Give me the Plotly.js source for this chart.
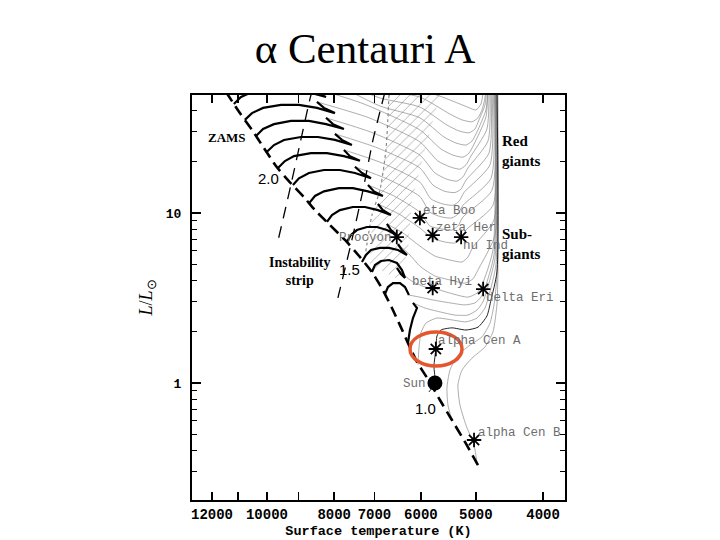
<!DOCTYPE html>
<html><head><meta charset="utf-8">
<script src="https://cdn.plot.ly/plotly-3.0.1.min.js"></script>
<style>body{margin:0;background:#fff}#chart{width:720px;height:540px}</style>
</head><body><div id="chart"></div>
<script>
// ---- axis ticks ----
const xTickVals = [12000, 11000, 10000, 9000, 8000, 7000, 6000, 5000, 4000];
const xTickText = ['12000', '', '10000', '', '8000', '7000', '6000', '5000', '4000'];
const yTickVals = [1, 10];
const yTickText = ['1', '10'];
const yMinorVals = [0.3,0.4,0.5,0.6,0.7,0.8,0.9,2,3,4,5,6,7,8,9,20,30,40];

// ---- stars ----
const starNames = ['eta Boo','zeta Her','nu Ind','Procyon','beta Hyi','delta Eri','alpha Cen A','alpha Cen B'];
const starT = [6020, 5770, 5250, 6500, 5770, 4880, 5710, 5030];
const starL = [9.35, 7.42, 7.22, 7.22, 3.62, 3.57, 1.585, 0.462];
const sunName = ['Sun'];
const sunT = [5727];
const sunL = [1.0];

// ---- ZAMS ----
const zamsT = [11455,10940,10510,10100,9705,9326,8845,8528,8114,7719,7344,7060,6806,6605,6432,6264,6079,5823,5633,5413,5184,4965];
const zamsL = [51.5,38.7,30.8,24.1,18.9,15.6,12.4,10.4,8.50,6.94,5.51,4.50,3.52,2.76,2.19,1.72,1.33,1.01,0.794,0.606,0.450,0.329];

// ---- instability strip edges ----
const stripBlueT = [8584, 8641, 8904, 9204, 9450, 9673];
const stripBlueL = [52.9, 49.4, 28.8, 15.6, 9.73, 6.48];
const stripRedT = [6760, 7034, 7272, 7544, 7902];
const stripRedL = [51.5, 26.9, 13.6, 6.94, 3.17];

// ---- terminal main sequence (dotted) and Hertzsprung gap (hatched) ----
const tamsT = [6671, 6738, 6874, 7058, 7223];
const tamsL = [49.4, 23.5, 13.6, 9.73, 5.51];
const gapT = [6671,5633,5919,6181,6263,6432,7105,7058,6874,6738];
const gapL = [49.4,49.4,23.5,11.9,6.06,4.04,4.94,9.73,13.6,23.5];

// ---- evolutionary tracks: thin (post main sequence) parts ----
const thinA_T = [6432,5633,5184,4998,4916,4867];
const thinA_L = [57.4,48.7,42.6,40.4,43.8,56.6];
const thinB_T = [7594,6874,6020,5449,5236,5065,4965,4899,4851,4835];
const thinB_L = [58.9,52.9,48.1,38.2,35.3,34.4,36.3,40.4,47.5,56.6];
const thinC_T = [7720,6874,6020,5503,5288,5116,5015,4948,4851,4819];
const thinC_L = [57.4,47.5,42.0,32.9,30.4,29.6,31.2,35.3,43.2,56.6];
const thinD_T = [7850,6874,6020,5558,5341,5167,5065,4981,4835,4803];
const thinD_L = [55.8,42.6,36.3,28.0,25.8,25.1,26.5,30.0,40.4,56.6];

const trk3ThickT = [11160,10900,10510,9870,9300,8730,8220,8530,8730];
const trk3ThickL = [43.8,48.1,51.5,53.6,53.6,51.5,48.1,51.5,55.8];
const trk3ThinT = [8730,7250,6020,5614,5395,5219,5116,5031,4835,4803];
const trk3ThinL = [55.8,43.8,30.8,23.8,21.9,21.3,22.5,25.4,36.7,54.4];

const trk4ThickT = [10760,10510,10130,9545,8993,8471,7980,8276,8471];
const trk4ThickL = [35.3,38.7,41.5,43.2,43.2,41.5,38.7,41.5,45.0];
const trk4ThinT = [8471,7129,6020,5670,5449,5271,5167,5082,4819,4787];
const trk4ThinL = [45.0,36.3,26.2,20.2,18.7,18.1,19.2,21.6,31.2,54.4];

const trk5ThickT = [10370,10130,9769,9234,8699,8220,7746,8033,8220];
const trk5ThickL = [28.4,31.2,33.3,34.8,34.8,33.3,31.2,33.3,36.3];
const trk5ThinT = [8220,7034,6020,5727,5503,5324,5219,5133,4803,4771];
const trk5ThinL = [36.3,29.6,21.9,17.2,15.8,15.4,16.3,18.4,26.5,54.4];

const trk6ThickT = [10000,9769,9450,8933,8443,7980,7544,7798,7980];
const trk6ThickL = [22.9,25.1,26.9,28.0,28.0,26.9,25.1,26.9,29.2];
const trk6ThinT = [7980,6920,6020,5765,5540,5359,5254,5167,4787,4755];
const trk6ThinL = [29.2,24.1,18.4,14.6,13.4,13.2,13.8,15.6,22.5,54.4];

const trk7ThickT = [9641,9421,9142,8641,8195,7746,7345,7594,7746];
const trk7ThickL = [18.4,20.2,21.6,22.5,22.5,21.6,20.3,21.6,23.5];
const trk7ThinT = [7746,6828,6020,5804,5577,5395,5288,5201,4771,4740];
const trk7ThinL = [23.5,19.7,15.2,12.1,11.3,11.1,11.7,13.2,19.2,54.4];

const trk8ThickT = [9173,8993,8699,8276,7850,7468,7081,7296,7468];
const trk8ThickL = [14.6,16.0,17.2,17.9,17.9,17.2,16.0,17.2,18.7];
const trk8ThinT = [7468,6693,6020,5823,5596,5413,5306,5219,4755,4724];
const trk8ThinL = [18.7,15.8,12.5,10.1,9.47,9.35,9.86,11.1,16.0,54.4];

const trk9ThickT = [8699,8527,8276,7876,7519,7152,6806,7011,7152];
const trk9ThickL = [11.4,12.6,13.4,14.0,14.0,13.4,12.6,13.4,14.6];
const trk9ThinT = [7152,6561,6020,5823,5596,5413,5306,5219,4740,4708];
const trk9ThinL = [14.6,12.6,10.1,8.39,8.05,7.94,8.39,9.47,13.6,54.4];

const trk10ThickT = [8195,8060,7850,7519,7223,6920,6627,6806,6920];
const trk10ThickL = [8.86,9.73,10.4,10.85,10.85,10.4,9.74,10.4,11.3];
const trk10ThinT = [6920,6453,6020,5784,5540,5359,5254,5167,4724,4692];
const trk10ThinL = [11.3,9.86,8.16,7.13,6.75,6.66,7.03,7.94,11.1,54.4];

const trk11ThickT = [7670,7569,7419,7176,6943,6716,6497,6627,6716];
const trk11ThickL = [6.75,7.42,7.94,8.27,8.27,7.94,7.42,7.94,8.62];
const trk11ThinT = [6716,6368,6020,5727,5449,5236,5133,5048,4708,4678];
const trk11ThinL = [8.62,7.62,6.39,5.58,5.29,5.15,5.51,6.31,9.10,54.4];

const trk15ThickT = [7296,7199,7081,6874,6671,6475,6284,6389,6475];
const trk15ThickL = [5.15,5.66,6.06,6.23,6.23,6.06,5.66,6.06,6.57];
const trk15ThinT = [6475,6222,6020,5727,5449,5184,5048,4948,4692,4662];
const trk15ThinL = [6.57,5.66,4.87,4.26,4.04,3.87,4.10,4.75,7.42,54.4];

const trk14ThickT = [7058,6987,6851,6671,6497,6389,6325,6411,6497];
const trk14ThickL = [4.50,4.94,5.22,5.29,5.08,4.62,4.15,4.38,4.75];
const trk14ThinT = [6497,6222,5919,5766,5449,5133,4981,4899,4724,4692];
const trk14ThinL = [4.75,4.04,3.67,3.62,3.38,3.20,3.38,3.77,6.06,54.4];

const trk13ThickT = [6760,6693,6583,6432,6325,6243];
const trk13ThickL = [3.33,3.67,3.87,3.87,3.67,3.29];
const trk13ThinT = [6243,6020,5766,5449,5184,5015,4916,4851,4708,4692];
const trk13ThinL = [3.29,3.20,3.08,2.96,2.88,2.96,3.20,3.62,5.66,54.4];

const trk12ThickT = [6263,6222,6160,6079,6160];
const trk12ThickL = [1.72,2.05,2.41,2.76,2.96];
const trk12ThinT = [6160,5919,5633,5359,5133,4981,4883,4819,4692,4678];
const trk12ThinL = [2.96,2.76,2.62,2.51,2.51,2.69,3.00,3.52,5.44,54.4];

const trk11mT = [6059,6039,5999,5901,5689,5413,5167,4981,4851,4787,4678,4678];
const trk11mL = [1.28,1.60,1.97,2.25,2.41,2.35,2.29,2.41,2.76,3.29,4.94,54.4];

const trk10mT = [5842,5727,5746,5708,5689,5614,5413,5167,4965,4819,4755,4662,4662];
const trk10mL = [0.886,1.0,1.26,1.58,1.89,2.05,2.11,2.05,2.13,2.48,3.08,4.50,54.4];

const trk09mT = [5413,5485,5503,5449,5306,5099,4899,4771,4708,4662,4662];
const trk09mL = [0.605,0.742,0.935,1.19,1.46,1.67,1.87,2.25,2.88,4.26,54.4];

const trk08mT = [4981,5031,5167,5271,5306,5236,5065,4851,4724,4662,4647,4647];
const trk08mL = [0.338,0.432,0.566,0.742,0.973,1.19,1.40,1.63,2.00,2.88,4.32,54.4];

// ---- label anchors (paper coordinates) ----
const starLabelX = [0.614, 0.649, 0.721, 0.389, 0.585, 0.783, 0.654, 0.761];
const starLabelY = [0.714, 0.672, 0.627, 0.647, 0.538, 0.499, 0.393, 0.165];
const sunLabelX = [0.561];
const sunLabelY = [0.286];

// ---- build traces ----
const traces = [];
function addLine(T, L, color, width, dash) {
  traces.push({x: T, y: L, type: 'scatter', mode: 'lines', hoverinfo: 'skip', showlegend: false,
    line: {color: color, width: width, dash: dash || 'solid', shape: 'spline', smoothing: 0.6}});
}
// hatched Hertzsprung gap
traces.push({x: gapT, y: gapL, type: 'scatter', mode: 'lines', fill: 'toself', showlegend: false, hoverinfo: 'skip',
  fillcolor: 'rgba(255,255,255,0)', line: {width: 0, color: 'rgba(0,0,0,0)'},
  fillpattern: {shape: '/', fgcolor: '#aaaaaa', bgcolor: 'rgba(255,255,255,0)', size: 7, solidity: 0.12}});

const thinC = '#808080', thinW = 0.65;
[[thinA_T,thinA_L],[thinB_T,thinB_L],[thinC_T,thinC_L],[thinD_T,thinD_L],
 [trk3ThinT,trk3ThinL],[trk4ThinT,trk4ThinL],[trk5ThinT,trk5ThinL],[trk6ThinT,trk6ThinL],
 [trk7ThinT,trk7ThinL],[trk8ThinT,trk8ThinL],[trk9ThinT,trk9ThinL],[trk10ThinT,trk10ThinL],
 [trk11ThinT,trk11ThinL],[trk15ThinT,trk15ThinL],[trk14ThinT,trk14ThinL],[trk13ThinT,trk13ThinL],
 [trk12ThinT,trk12ThinL],[trk11mT,trk11mL],[trk09mT,trk09mL],[trk08mT,trk08mL]
].forEach(p => addLine(p[0], p[1], thinC, thinW));

addLine(tamsT, tamsL, '#888888', 1.2, 'dot');
addLine(stripBlueT, stripBlueL, '#000000', 1.3, '12px,8px');
addLine(stripRedT, stripRedL, '#000000', 1.3, '12px,8px');

[[trk3ThickT,trk3ThickL],[trk4ThickT,trk4ThickL],[trk5ThickT,trk5ThickL],[trk6ThickT,trk6ThickL],
 [trk7ThickT,trk7ThickL],[trk8ThickT,trk8ThickL],[trk9ThickT,trk9ThickL],[trk10ThickT,trk10ThickL],
 [trk11ThickT,trk11ThickL],[trk15ThickT,trk15ThickL],[trk14ThickT,trk14ThickL],[trk13ThickT,trk13ThickL],
 [trk12ThickT,trk12ThickL]
].forEach(p => traces.push({x: p[0], y: p[1], type: 'scatter', mode: 'lines', hoverinfo: 'skip', showlegend: false,
   line: {color: '#000', width: 2.2}}));

addLine(trk10mT, trk10mL, '#222222', 1.0);
traces.push({x: zamsT, y: zamsL, type: 'scatter', mode: 'lines', hoverinfo: 'skip', showlegend: false,
  line: {color: '#000', width: 2.6, dash: '11px,6px', shape: 'spline', smoothing: 0.5}});

traces.push({x: starT, y: starL, text: starNames, type: 'scatter', mode: 'markers', showlegend: false,
  marker: {symbol: 'asterisk-open', size: 12, color: '#000', line: {color: '#000', width: 1.8}}});
traces.push({x: sunT, y: sunL, text: sunName, type: 'scatter', mode: 'markers', showlegend: false,
  marker: {symbol: 'circle', size: 15, color: '#000'}});

// ---- annotations ----
const labFont = {family: 'Liberation Mono, monospace', size: 12.5, color: '#6e6e6e'};
const annotations = [];
starNames.forEach((n, i) => annotations.push({text: n, xref: 'paper', yref: 'paper', x: starLabelX[i], y: starLabelY[i],
  xanchor: 'left', yanchor: 'middle', showarrow: false, font: labFont}));
annotations.push({text: sunName[0], xref: 'paper', yref: 'paper', x: sunLabelX[0], y: sunLabelY[0],
  xanchor: 'left', yanchor: 'middle', showarrow: false, font: labFont});
const boldSerif = {family: 'Liberation Serif, serif', size: 14, color: '#000', weight: 'bold'};
const sansLab = {family: 'Liberation Sans, sans-serif', size: 15, color: '#000'};
function lab(text, x, y, font, xanchor, align) {
  annotations.push({text: text, xref: 'paper', yref: 'paper', x: x, y: y, xanchor: xanchor || 'center',
    yanchor: 'middle', align: align || 'center', showarrow: false, font: font});
}
lab('ZAMS', 0.094, 0.894, Object.assign({}, boldSerif, {size: 13}));
lab('2.0', 0.206, 0.793, sansLab);
lab('1.5', 0.423, 0.568, sansLab);
lab('1.0', 0.627, 0.225, sansLab);
lab('Red<br>giants', 0.826, 0.862, Object.assign({}, boldSerif, {size: 15}), 'left', 'left');
lab('Sub-<br>giants', 0.826, 0.631, Object.assign({}, boldSerif, {size: 15}), 'left', 'left');
lab('Instability<br>strip', 0.287, 0.563, boldSerif);

const layout = {
  width: 720, height: 540,
  margin: {l: 192, r: 155, t: 95, b: 40},
  paper_bgcolor: '#fff', plot_bgcolor: '#fff',
  title: {text: 'α Centauri A', font: {family: 'Liberation Serif, serif', size: 43, color: '#000'},
          x: 0.507, xanchor: 'center', y: 0.911, yanchor: 'middle'},
  xaxis: {type: 'log', range: [4.1080, 3.5705], autorange: false,
    tickmode: 'array', tickvals: xTickVals, ticktext: xTickText, tickangle: 0,
    ticks: 'inside', ticklen: 8, tickwidth: 1.5, tickcolor: '#000',
    showline: true, linewidth: 2, linecolor: '#000', mirror: 'ticks', showgrid: false, zeroline: false,
    tickfont: {family: 'Liberation Mono, monospace', size: 14, color: '#000', weight: 'bold'},
    title: {text: 'Surface temperature (K)', standoff: 4,
      font: {family: 'Liberation Mono, monospace', size: 13.5, color: '#000', weight: 'bold'}}},
  yaxis: {type: 'log', range: [-0.6882, 1.6941], autorange: false,
    tickmode: 'array', tickvals: yTickVals, ticktext: yTickText, tickangle: 0,
    ticks: 'inside', ticklen: 9, tickwidth: 1.5, tickcolor: '#000', ticklabelstandoff: 6,
    minor: {tickmode: 'array', tickvals: yMinorVals, ticks: 'inside', ticklen: 5, tickwidth: 1.2, tickcolor: '#000'},
    showline: true, linewidth: 2, linecolor: '#000', mirror: 'ticks', showgrid: false, zeroline: false,
    tickfont: {family: 'Liberation Mono, monospace', size: 13, color: '#000', weight: 'bold'},
    title: {text: '<i>L</i>/<i>L</i><sub>⊙</sub>', standoff: 8,
      font: {family: 'Liberation Serif, serif', size: 18, color: '#000'}}},
  shapes: [{type: 'circle', xref: 'paper', yref: 'paper', x0: 0.5845, x1: 0.7239, y0: 0.331, y1: 0.415,
    line: {color: '#e4572e', width: 3.5}, fillcolor: 'rgba(0,0,0,0)'}],
  annotations: annotations
};

Plotly.newPlot('chart', traces, layout, {displayModeBar: false, staticPlot: true});
</script></body></html>
